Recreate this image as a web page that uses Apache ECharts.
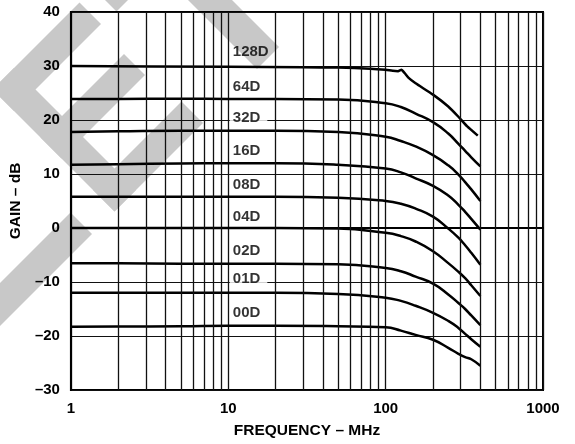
<!DOCTYPE html>
<html>
<head>
<meta charset="utf-8">
<script src="https://cdn.jsdelivr.net/npm/echarts@6/dist/echarts.min.js"></script>
<style>
  html, body { margin: 0; padding: 0; background: #fff; }
  #chart { width: 575px; height: 444px; }
</style>
</head>
<body>
<div id="chart"></div>
<script>
// Gain (dB) versus frequency (MHz) for each gain code.
const freqMHz = [1, 2, 5, 10, 20, 50, 100, 125, 155, 200, 250, 290, 320, 350, 400];
const gain64D = [23.9, 23.9, 23.95, 23.9, 23.9, 23.8, 23.1, 22.4, 21.2, 19.6, 17.5, 15.6, 14.3, 13.1, 11.4];
const gain32D = [17.8, 17.9, 18.0, 18.0, 18.0, 17.8, 16.9, 16.1, 15.1, 13.5, 11.6, 9.9, 8.5, 7.15, 5.0];
const gain16D = [11.7, 11.8, 11.95, 12.0, 12.0, 11.7, 11.0, 10.3, 9.2, 7.8, 6.0, 4.3, 3.0, 1.7, -0.3];
const gain08D = [5.8, 5.8, 5.8, 5.8, 5.8, 5.6, 5.0, 4.5, 3.6, 2.1, -0.1, -1.8, -3.2, -4.6, -6.8];
const gain04D = [0.0, 0.0, 0.0, 0.0, 0.0, -0.1, -0.9, -1.5, -2.5, -4.3, -6.5, -8.1, -9.3, -10.6, -12.6];
const gain02D = [-6.55, -6.55, -6.6, -6.6, -6.6, -6.7, -7.4, -8.0, -9.0, -10.3, -12.3, -13.9, -15.0, -16.2, -18.0];
const gain01D = [-12.0, -12.0, -12.0, -12.0, -12.0, -12.2, -12.9, -13.5, -14.4, -15.7, -17.2, -18.5, -19.6, -20.6, -22.0];
const gain00D = [-18.3, -18.25, -18.2, -18.1, -18.1, -18.2, -18.4, -19.0, -19.8, -20.7, -22.2, -23.3, -23.9, -24.3, -25.5];

// The 128D curve has its own frequency points (peaking near 125 MHz).
const freq128D = [1, 10, 30, 50, 80, 100, 120, 126, 132, 140, 155, 200, 250, 290, 330, 385];
const gain128D = [30.0, 29.85, 29.75, 29.7, 29.5, 29.3, 29.05, 29.3, 28.7, 27.8, 26.8, 24.7, 22.5, 20.6, 18.8, 17.1];

// Curve tags, written just right of the 10 MHz line.
const curveNames = ['128D', '64D', '32D', '16D', '08D', '04D', '02D', '01D', '00D'];
const labelFreqMHz = 10;
const labelGainDb = [32.6, 26.05, 20.4, 14.2, 7.9, 2.0, -4.2, -9.5, -15.7];
const boxedLabels = ['32D', '01D'];

// Intermediate log-grid lines inside each decade.
const minorGridMHz = [2, 3, 4, 5, 6, 7, 8, 9, 20, 30, 40, 50, 60, 70, 80, 90, 200, 300, 400, 500, 600, 700, 800, 900];

const font = "'Liberation Sans', Arial, Helvetica, sans-serif";
const pair = (fs, gs) => fs.map((f, i) => [f, gs[i]]);

const curves = [
  { name: '128D', data: pair(freq128D, gain128D), smooth: 0.15 },
  { name: '64D', data: pair(freqMHz, gain64D) },
  { name: '32D', data: pair(freqMHz, gain32D) },
  { name: '16D', data: pair(freqMHz, gain16D) },
  { name: '08D', data: pair(freqMHz, gain08D) },
  { name: '04D', data: pair(freqMHz, gain04D) },
  { name: '02D', data: pair(freqMHz, gain02D) },
  { name: '01D', data: pair(freqMHz, gain01D) },
  { name: '00D', data: pair(freqMHz, gain00D) }
];

// Light-grey diagonal lettering behind the plot, built from rotated bars.
// s = x + y and d = x - y describe the 45-degree bands.
function band(s0, s1, d0, d1) {
  return [
    [(s0 + d0) / 2, (s0 - d0) / 2],
    [(s1 + d0) / 2, (s1 - d0) / 2],
    [(s1 + d1) / 2, (s1 - d1) / 2],
    [(s0 + d1) / 2, (s0 - d1) / 2]
  ];
}
const stamp = [
  band(283, 326, -420, -142), // L foot
  band(82, 326, -97, -54),    // E spine
  band(82, 125, -97, 77),     // E top bar
  band(178, 220, -97, 70),    // E middle bar
  band(283, 326, -97, 80),    // E bottom bar
  band(100, 326, 188, 232),   // T stem
  band(82, 128, 105, 320)     // T cross bar
].map(pts => ({
  type: 'polygon',
  silent: true,
  z: -10,
  shape: { points: pts },
  style: { fill: '#c8c8c8' }
}));

const chart = echarts.init(document.getElementById('chart'), null, { renderer: 'canvas' });

chart.setOption({
  animation: false,
  backgroundColor: '#fff',
  graphic: stamp,
  grid: {
    left: 63, right: 32, top: 12, bottom: 49,
    show: true, borderColor: '#000', borderWidth: 2,
    backgroundColor: 'transparent'
  },
  xAxis: {
    type: 'log',
    logBase: 10,
    min: 1,
    max: 1000,
    name: 'FREQUENCY \u2013 MHz',
    nameLocation: 'middle',
    nameGap: 33,
    nameTextStyle: { fontFamily: font, fontWeight: 'bold', fontSize: 15.5, color: '#000' },
    axisLine: { show: true, lineStyle: { color: '#000', width: 2 } },
    axisTick: { show: false },
    axisLabel: {
      fontFamily: font, fontWeight: 'bold', fontSize: 15, color: '#000', margin: 11,
      formatter: v => String(Math.round(v))
    },
    splitLine: { show: true, lineStyle: { color: '#111', width: 1.3 } }
  },
  yAxis: {
    type: 'value',
    min: -30,
    max: 40,
    interval: 10,
    name: 'GAIN \u2013 dB',
    nameLocation: 'middle',
    nameRotate: 90,
    nameGap: 38,
    nameTextStyle: { fontFamily: font, fontWeight: 'bold', fontSize: 15.5, color: '#000' },
    axisLine: { show: true, lineStyle: { color: '#000', width: 2 } },
    axisTick: { show: false },
    axisLabel: {
      fontFamily: font, fontWeight: 'bold', fontSize: 15, color: '#000', margin: 11,
      formatter: v => (v < 0 ? '\u2013' + (-v) : String(v))
    },
    splitLine: { show: true, lineStyle: { color: '#111', width: 1.2 } }
  },
  series: curves.map(c => ({
    type: 'line',
    name: c.name,
    data: c.data,
    symbol: 'none',
    showSymbol: false,
    smooth: c.smooth !== undefined ? c.smooth : 0.5,
    silent: true,
    z: 3,
    lineStyle: { color: '#000', width: 2.5, join: 'round', cap: 'butt' }
  })).concat([{
    type: 'scatter',
    name: 'tags',
    silent: true,
    z: 4,
    symbolSize: 1,
    itemStyle: { color: 'rgba(0,0,0,0)' },
    data: curveNames.map((n, i) => ({
      name: n,
      value: [labelFreqMHz, labelGainDb[i]],
      label: boxedLabels.includes(n) ? { backgroundColor: '#fff' } : {}
    })),
    label: {
      show: true,
      position: 'right',
      distance: 1,
      formatter: '{b}',
      fontFamily: font,
      fontWeight: 'bold',
      fontSize: 15,
      color: '#000',
      padding: [2, 7, 2, 3]
    },
    markLine: {
      silent: true,
      symbol: ['none', 'none'],
      label: { show: false },
      lineStyle: { type: 'solid', color: '#111', width: 1.3 },
      data: minorGridMHz.map(f => ({ xAxis: f }))
    }
  }])
});
</script>
</body>
</html>
